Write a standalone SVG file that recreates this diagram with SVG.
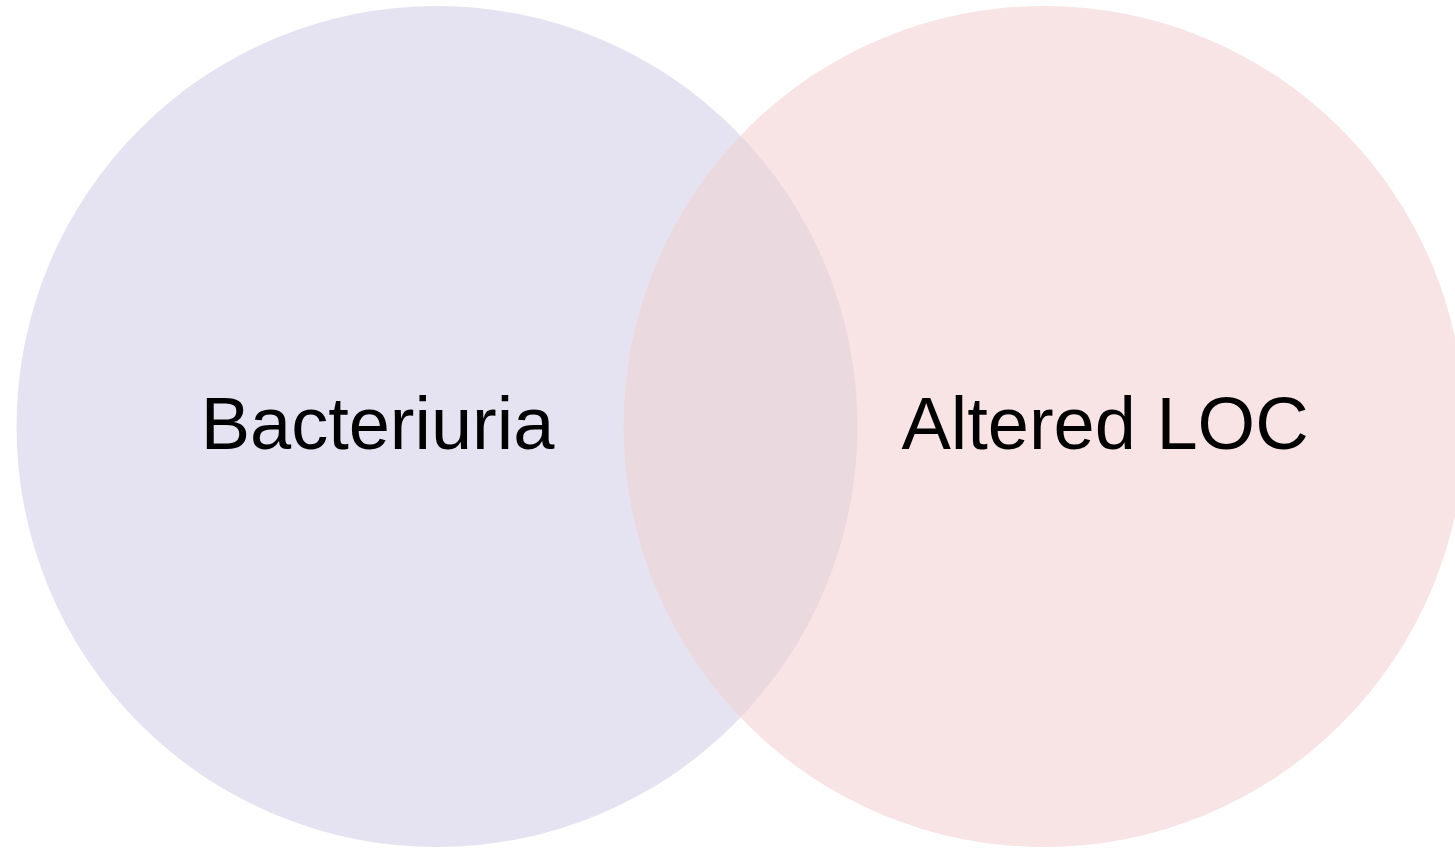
<svg xmlns="http://www.w3.org/2000/svg" width="1455" height="848" viewBox="0 0 1455 848">
  <style>
    .lbl { font-family: "Liberation Sans", Arial, sans-serif; font-size: 74px; fill: #000000; text-anchor: middle; }
  </style>
  <defs>
    <clipPath id="clipLeft">
      <circle cx="437" cy="426.5" r="420.5"/>
    </clipPath>
  </defs>
  <rect width="1455" height="848" fill="#ffffff"/>
  <g id="set-bacteriuria">
    <circle cx="437" cy="426.5" r="420.5" fill="#e5e3f2"/>
  </g>
  <g id="set-altered-loc">
    <circle cx="1044" cy="426.5" r="420.5" fill="#f8e4e4"/>
  </g>
  <g id="overlap">
    <circle cx="1044" cy="426.5" r="420.5" fill="#ead9df" clip-path="url(#clipLeft)"/>
  </g>
  <g id="labels">
    <text class="lbl" x="377.5" y="449">Bacteriuria</text>
    <text class="lbl" x="1105" y="449">Altered LOC</text>
  </g>
  <g id="connectors"></g>
</svg>
